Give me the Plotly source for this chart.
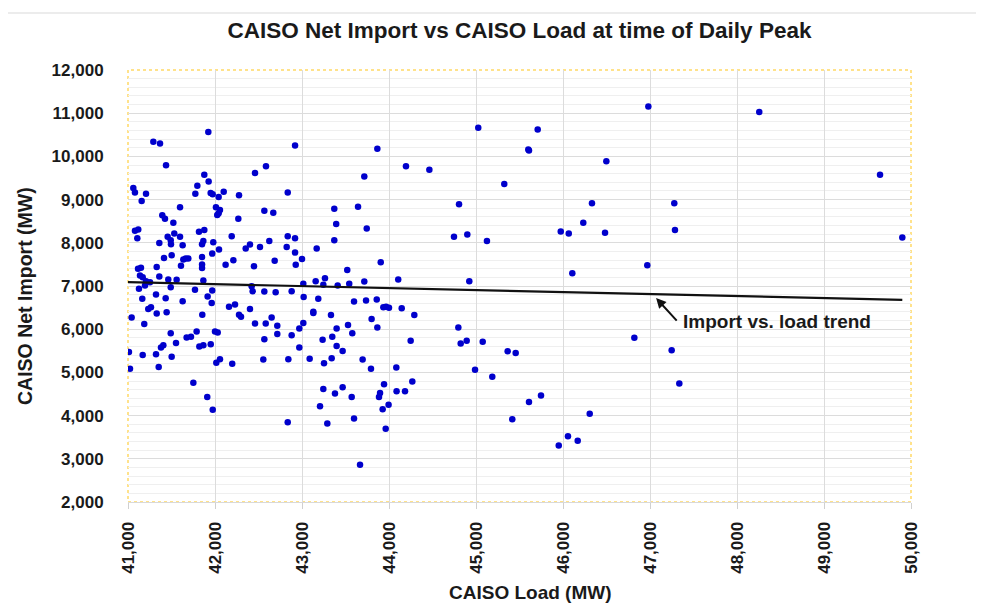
import plotly.graph_objects as go

# CAISO load (MW) at time of daily peak
load_mw = [
    41923, 41291, 41368, 41437, 42460, 42586, 41877, 41927, 41797, 41061,
    41080, 41207, 41157, 41774, 41950, 41973, 42042, 42100, 42276, 41598,
    42011, 42057, 42042, 42026, 41394, 41425, 41521, 42268, 42567, 42670,
    41080, 41118, 41107, 41816, 41877, 41532, 41456, 41491, 41494, 41598,
    41360, 41628, 41851, 41866, 41980, 42192, 41968, 42046, 42353, 42402,
    42517, 42624, 41414, 41502, 41636, 41663, 41693, 41609, 41851, 41851,
    41851, 41115, 41149, 41138, 41169, 41330, 41360, 42122, 42211, 42448,
    42686, 41463, 41559, 41866, 41207, 41253,
    41126, 41195, 41491, 41770, 41915, 41968, 41962, 42421, 42433, 42567,
    42697, 41164, 41322, 41433, 41628, 41042, 41233, 41264, 41330, 41444,
    41187, 41854, 42161, 42230, 42276, 42299, 42402, 42460, 42583, 42651,
    42716, 42716, 41491, 41552, 41674, 41724, 41789, 42000, 42031, 41379,
    41406, 41820, 41866, 41951, 42567, 41011, 41169, 41322, 41502, 42015,
    42057, 42198, 42555, 41023, 41353, 41751, 41911, 41974,
    42920, 43866, 44195, 44464, 43716, 42836, 43371, 43644, 43393, 43744,
    42836, 42920, 42824, 43371, 43169, 42920, 43000, 42928, 43905, 43520,
    44106, 43015, 43157, 43264, 43245, 43410, 43543, 43716,
    42881, 43019, 43187, 43598, 43736, 43859, 43935, 43966, 44000, 44146,
    44291, 43130, 43130, 43333, 43800, 43015, 42969, 42881, 43529, 43398,
    43578, 43866, 43348, 43237, 44249, 42969, 43398, 43467, 42843, 43088,
    43253, 43341, 43697, 43793, 44084, 44268, 43943, 43245, 43379, 43467,
    43571, 43897, 43885, 44087, 44184, 43207, 43927, 43995, 42836, 43291,
    43598, 43962, 43667,
    46981, 45026, 45709, 45601, 45609, 46498, 45325, 44805, 46333, 47279,
    46233, 44747, 44900, 45126, 45974, 46066, 46483, 47287, 46969, 46107,
    44923,
    44797, 44824, 44893, 45077, 45364, 45456, 44989, 45187, 45609, 45747,
    45417, 46307, 45951, 46057, 46169, 46820, 47249, 47337,
    48256, 49644, 49900,
]

# CAISO net import (MW) at time of daily peak
net_import_mw = [
    10562, 10338, 10298, 9793, 9615, 9770, 9576, 9420, 9319, 9266,
    9163, 9133, 8970, 9133, 9150, 9126, 9063, 9179, 9103, 8822,
    8822, 8760, 8683, 8643, 8636, 8557, 8464, 8557, 8744, 8697,
    8277, 8310, 8107, 8254, 8294, 8217, 8139, 8061, 7967, 8139,
    7998, 7944, 7967, 8044, 8014, 8154, 7750, 7843, 7867, 7960,
    7905, 8044, 7648, 7711, 7611, 7634, 7634, 7471, 7671, 7499,
    7415, 7400, 7424, 7245, 7205, 7439, 7221, 7492, 7594, 7455,
    7587, 7151, 7144, 7128, 7112, 7089,
    6935, 7012, 6973, 6912, 6755, 6895, 6608, 6995, 6879, 6872,
    6856, 6702, 6802, 6716, 6646, 6273, 6468, 6506, 6366, 6390,
    6118, 6336, 6522, 6569, 6336, 6289, 6468, 6133, 6133, 6273,
    6079, 5886, 5909, 5683, 5807, 5823, 5948, 5948, 5924, 5574,
    5629, 5597, 5629, 5653, 5769, 5474, 5404, 5420, 5365, 5226,
    5303, 5202, 5296, 5084, 5124, 4758, 4432, 4138,
    10252, 10175, 9770, 9692, 9536, 9163, 8790, 8837, 8434, 8333,
    8154, 8107, 7905, 8061, 7867, 7773, 7625, 7492, 7548, 7369,
    7151, 7051, 7112, 7182, 7028, 7012, 7051, 7105,
    6879, 6748, 6702, 6639, 6662, 6685, 6506, 6522, 6499, 6483,
    6328, 6406, 6375, 6328, 6235, 6142, 6017, 5862, 6095, 6017,
    5909, 6040, 5823, 5753, 5730, 5574, 5613, 5497, 5303, 5317,
    5210, 5326, 5296, 5084, 5116, 4790, 4727, 4618, 4510, 4657,
    4432, 4525, 4432, 4564, 4564, 4214, 4145, 4254, 3848, 3818,
    3934, 3693, 2862,
    11154, 10664, 10625, 10159, 10135, 9886, 9359, 8893, 8916, 8916,
    8464, 8139, 8193, 8044, 8263, 8217, 8231, 8294, 7478, 7298,
    7112,
    6040, 5669, 5730, 5707, 5489, 5450, 5061, 4897, 4315, 4464,
    3918, 4044, 3305, 3522, 3415, 5800, 5513, 4744,
    11028, 9576, 8124,
]

# Trend line end points
trend_load = [41000, 49900]
trend_import = [7090, 6680]

x_ticks = [41000, 42000, 43000, 44000, 45000, 46000, 47000, 48000, 49000, 50000]
y_ticks = [2000, 3000, 4000, 5000, 6000, 7000, 8000, 9000, 10000, 11000, 12000]

title_text = "CAISO Net Import vs CAISO Load at time of Daily Peak"
x_title = "CAISO Load (MW)"
y_title = "CAISO Net Import (MW)"
trend_label = "Import vs. load trend"
arrow_tip = (47070, 6720)
label_pos = (47358, 6186)

BOLD = "Liberation Sans, Arial, sans-serif"
TICK_FONT = dict(family=BOLD, size=17, color="#1a1a1a", weight="bold")

fig = go.Figure()
fig.add_trace(go.Scatter(
    x=load_mw, y=net_import_mw, mode="markers",
    marker=dict(size=6.5, color="#0000cc", line=dict(width=0)),
    showlegend=False, hoverinfo="x+y",
))
fig.add_trace(go.Scatter(
    x=trend_load, y=trend_import, mode="lines",
    line=dict(color="#111111", width=2.2),
    showlegend=False, hoverinfo="skip",
))

# The page body adds an 8px offset; figure is sized to fit the window.
OFF = 8
W, H = 984 - OFF, 604 - OFF
PL, PR, PT, PB = 128, 911, 70, 502   # plot area in window pixels
ML, MR, MT, MB = PL - OFF, 984 - PR, PT - OFF, 604 - PB
PW, PH = PR - PL, PB - PT

def px_to_paper_x(px):
    return (px - PL) / PW

def px_to_paper_y(py):
    return (PB - py) / PH

fig.update_layout(
    width=W, height=H,
    margin=dict(l=ML, r=MR, t=MT, b=MB, pad=0),
    paper_bgcolor="white", plot_bgcolor="white",
    title=dict(
        text="<b>" + title_text + "</b>",
        x=0.5, xref="paper", xanchor="center",
        y=1 - (30 - OFF) / H, yref="container", yanchor="middle",
        font=dict(family=BOLD, size=22.5, color="#1a1a1a"),
    ),
    xaxis=dict(
        range=[41000, 50000], tickvals=x_ticks, tickformat=",d",
        tickangle=-90, tickfont=TICK_FONT,
        showgrid=True, gridcolor="#dcdcdc", gridwidth=1,
        ticks="outside", ticklen=6, tickcolor="#d0d0d0", tickwidth=1,
        ticklabelstandoff=6,
        showline=True, linecolor="#d9d9d9", linewidth=1,
        zeroline=False, fixedrange=True,
    ),
    yaxis=dict(
        range=[2000, 12000], tickvals=y_ticks, tickformat=",d",
        tickfont=TICK_FONT,
        showgrid=True, gridcolor="#dcdcdc", gridwidth=1,
        minor=dict(dtick=200, showgrid=True, gridcolor="#efefef", gridwidth=1),
        ticks="outside", ticklen=20, tickcolor="rgba(0,0,0,0)",
        showline=False, zeroline=False, fixedrange=True,
    ),
)

# Plot area dotted border and outer chart frame
fig.add_shape(type="rect", xref="paper", yref="paper", x0=0, y0=0, x1=1, y1=1,
              line=dict(color="#ffd966", width=1.5, dash="dot"), layer="between")
fig.add_shape(type="rect", xref="paper", yref="paper",
              x0=px_to_paper_x(7), y0=px_to_paper_y(640), x1=px_to_paper_x(1020), y1=px_to_paper_y(13),
              line=dict(color="#d9d9d9", width=1.2), layer="below")

# Axis titles
fig.add_annotation(text="<b>" + y_title + "</b>", xref="paper", yref="paper",
                   x=px_to_paper_x(25), y=px_to_paper_y(296), textangle=-90,
                   showarrow=False, xanchor="center", yanchor="middle",
                   font=dict(family=BOLD, size=19.5, color="#1a1a1a"))
fig.add_annotation(text="<b>" + x_title + "</b>", xref="paper", yref="paper",
                   x=px_to_paper_x(530), y=px_to_paper_y(592),
                   showarrow=False, xanchor="center", yanchor="middle",
                   font=dict(family=BOLD, size=19, color="#1a1a1a"))

# Trend annotation arrow + label
fig.add_annotation(x=arrow_tip[0], y=arrow_tip[1], xref="x", yref="y", text="",
                   showarrow=True, ax=22, ay=24, arrowhead=2, arrowsize=1,
                   arrowwidth=2, arrowcolor="#111111", standoff=0)
fig.add_annotation(x=label_pos[0], y=label_pos[1], xref="x", yref="y",
                   text="<b>" + trend_label + "</b>", showarrow=False,
                   xanchor="left", yanchor="middle",
                   font=dict(family=BOLD, size=19, color="#1a1a1a"))

fig.write_html("out.html")
